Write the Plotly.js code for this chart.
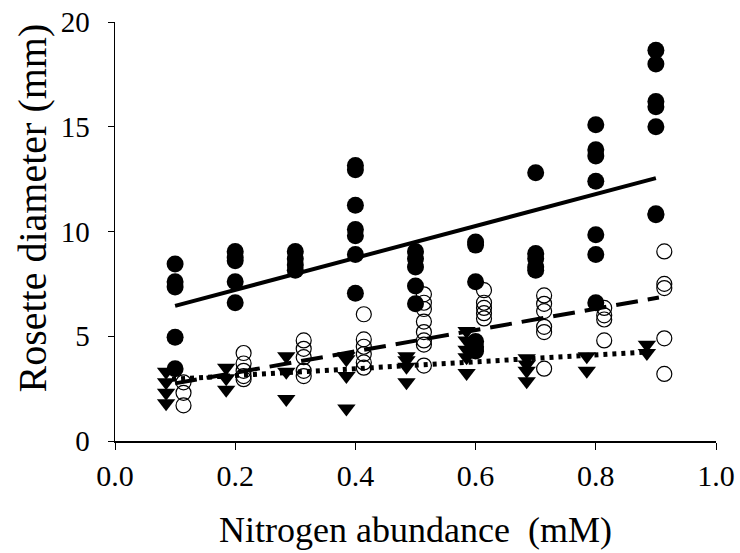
<!DOCTYPE html>
<html>
<head>
<meta charset="utf-8">
<script src="https://cdn.plot.ly/plotly-3.0.1.min.js"></script>
<style>html,body{margin:0;padding:0;background:#fff;}#chart{width:740px;height:553px;}</style>
</head>
<body>
<div id="chart"></div>
<script>
// Filled circles (solid fit)
const filledX = [0.1,0.1,0.1,0.1,0.1,
  0.2,0.2,0.2,0.2,0.2,
  0.3,0.3,0.3,0.3,
  0.4,0.4,0.4,0.4,0.4,0.4,0.4,
  0.5,0.5,0.5,0.5,0.5,
  0.6,0.6,0.6,0.6,0.6,0.6,
  0.7,0.7,0.7,0.7,0.7,
  0.8,0.8,0.8,0.8,0.8,0.8,0.8,
  0.9,0.9,0.9,0.9,0.9,0.9,0.9];
const filledY = [8.45,7.6,7.35,4.95,3.45,
  9.05,8.75,8.6,7.6,6.6,
  9.05,8.7,8.4,8.15,
  13.15,12.95,11.25,10.1,9.8,8.9,7.05,
  9.05,8.7,8.3,7.4,6.55,
  9.5,9.35,7.6,4.75,4.5,4.3,
  12.8,8.95,8.7,8.3,8.15,
  15.1,13.9,13.6,12.4,9.85,8.9,6.6,
  18.65,18.0,16.2,15.95,15.0,10.85,10.8];

// Open circles (dashed fit)
const openX = [0.114,0.114,0.114,
  0.214,0.214,0.214,0.214,0.214,
  0.314,0.314,0.314,0.314,0.314,
  0.414,0.414,0.414,0.414,0.414,0.414,
  0.514,0.514,0.514,0.514,0.514,0.514,0.514,0.514,
  0.614,0.614,0.614,0.614,0.614,
  0.714,0.714,0.714,0.714,0.714,0.714,
  0.814,0.814,0.814,0.814,
  0.914,0.914,0.914,0.914,0.914];
const openY = [2.8,2.3,1.7,
  4.2,3.7,3.35,3.1,2.95,
  4.8,4.4,4.0,3.35,3.1,
  6.05,4.85,4.5,4.15,3.75,3.5,
  7.0,6.6,6.3,5.7,5.2,4.8,4.6,3.6,
  7.2,6.6,6.35,6.1,5.85,
  6.95,6.55,6.2,5.45,5.2,3.45,
  6.35,6.0,5.8,4.8,
  9.05,7.5,7.3,4.9,3.2];

// Triangles (dotted fit)
const triX = [0.085,0.085,0.085,0.085,
  0.185,0.185,0.185,
  0.285,0.285,0.285,
  0.385,0.385,0.385,0.385,
  0.485,0.485,0.485,0.485,
  0.585,0.585,0.585,0.585,0.585,
  0.685,0.685,0.685,0.685,
  0.785,0.785,
  0.885,0.885];
const triY = [3.3,2.8,2.3,1.8,
  3.5,3.0,2.45,
  4.05,3.3,2.0,
  4.05,3.9,3.1,1.55,
  4.05,3.85,3.55,2.8,
  5.25,4.8,4.35,4.0,3.25,
  3.95,3.65,3.35,2.85,
  4.05,3.35,
  4.6,4.2];

// Regression lines
const fitSolidX = [0.1, 0.9];
const fitSolidY = [6.45, 12.55];
const fitDashX = [0.1, 0.905];
const fitDashY = [2.75, 6.85];
const fitDotX = [0.095, 0.885];
const fitDotY = [2.95, 4.25];

const xTickVals = [0, 0.2, 0.4, 0.6, 0.8, 1.0];
const xTickText = ["0.0","0.2","0.4","0.6","0.8","1.0"];
const yTickVals = [0, 5, 10, 15, 20];
const yTickText = ["0","5","10","15","20"];

const xTitle = 'Nitrogen abundance\u00A0 (mM)';
const yTitle = 'Rosette diameter (mm)';

const FONT = "Liberation Serif, Times New Roman, serif";

const traces = [
  {x: triX, y: triY, type: 'scatter', mode: 'markers',
   marker: {symbol: 'triangle-down', size: 16, color: '#000', line: {width: 0}}},
  {x: filledX, y: filledY, type: 'scatter', mode: 'markers',
   marker: {symbol: 'circle', size: 17, color: '#000', line: {width: 0}}},
  {x: openX, y: openY, type: 'scatter', mode: 'markers',
   marker: {symbol: 'circle-open', size: 15, color: '#000', line: {width: 1.2, color: '#000'}}},
  {x: fitSolidX, y: fitSolidY, type: 'scatter', mode: 'lines',
   line: {color: '#000', width: 4}},
  {x: fitDashX, y: fitDashY, type: 'scatter', mode: 'lines',
   line: {color: '#000', width: 4, dash: '22px,10px'}},
  {x: fitDotX, y: fitDotY, type: 'scatter', mode: 'lines',
   line: {color: '#000', width: 5, dash: '4px,5px'}}
];

const layout = {
  width: 740, height: 553,
  margin: {l: 115, r: 24, t: 22, b: 112},
  paper_bgcolor: '#fff', plot_bgcolor: '#fff',
  showlegend: false,
  font: {family: FONT, color: '#000'},
  xaxis: {
    range: [0, 1], tickvals: xTickVals, ticktext: xTickText,
    showline: true, linecolor: '#000', linewidth: 1.5,
    ticks: 'outside', ticklen: 7, tickwidth: 1, tickcolor: '#000',
    showgrid: false, zeroline: false,
    tickfont: {family: FONT, size: 30, color: '#000'},
    ticklabelstandoff: 0,
    title: {text: xTitle, font: {family: FONT, size: 36, color: '#000'}, standoff: 26}
  },
  yaxis: {
    range: [0, 20], tickvals: yTickVals, ticktext: yTickText,
    showline: true, linecolor: '#000', linewidth: 1.5,
    ticks: 'outside', ticklen: 6, tickwidth: 1, tickcolor: '#000',
    showgrid: false, zeroline: false,
    tickfont: {family: FONT, size: 29, color: '#000'},
    ticklabelstandoff: 12
  },
  annotations: [
    {text: yTitle, xref: 'paper', yref: 'paper', x: -0.138, y: 0.555,
     xanchor: 'center', yanchor: 'middle', textangle: -90, showarrow: false,
     font: {family: FONT, size: 40, color: '#000'}}
  ]
};

Plotly.newPlot('chart', traces, layout, {displayModeBar: false, staticPlot: true});
</script>
</body>
</html>
